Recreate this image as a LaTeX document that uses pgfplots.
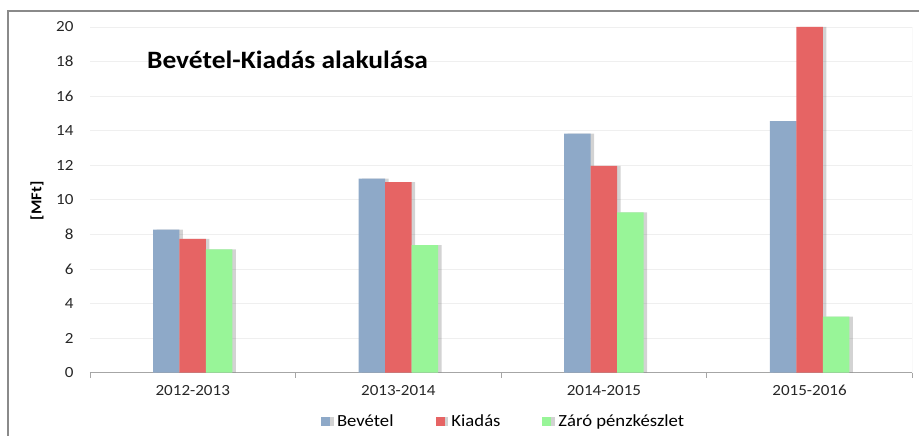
\documentclass[border=0pt]{standalone}
\usepackage{fontspec}
\setmainfont[FakeStretch=1.1]{Carlito}
\usepackage{pgfplots}
\pgfplotsset{compat=1.18}
\usetikzlibrary{shadows}
\definecolor{cblue}{HTML}{8EA9C8}
\definecolor{cred}{HTML}{E66464}
\definecolor{cgreen}{HTML}{98F598}
\definecolor{framegray}{HTML}{8A8A8A}
\definecolor{gridc}{HTML}{EFEFEF}
\definecolor{axc}{HTML}{A6A6A6}
\begin{document}
\begin{tikzpicture}[x=1pt,y=1pt]
\path (0,0) rectangle (920,436);
\draw[framegray, line width=1.3pt] (8,0) -- (8,425) -- (920,425);
\begin{axis}[
  at={(90pt,63pt)}, anchor=south west,
  scale only axis, width=823pt, height=346pt,
  xmin=-0.5, xmax=3.5, ymin=0, ymax=20,
  ybar=0pt, bar width=26.5pt,
  axis x line*=bottom, axis y line*=left,
  y axis line style={draw=none},
  x axis line style={draw=axc, line width=0.8pt},
  xtick={-0.5,0.5,1.5,2.5,3.5},
  x tick label as interval,
  xticklabels={2012-2013,2013-2014,2014-2015,2015-2016},
  xtick style={draw=axc, line width=0.8pt},
  tick align=outside, major tick length=5pt,
  ytick={0,2,...,20},
  ytick style={draw=none},
  ymajorgrids, grid style={draw=gridc, line width=0.8pt},
  tick label style={font=\fontsize{15.5}{18}\selectfont, text=black!85},
  /pgf/number format/assume math mode=true,
  yticklabel style={xshift=-8pt},
  xticklabel style={yshift=-4pt},
  legend columns=3,
  legend style={at={(axis description cs:0.503,-0.1416)}, anchor=center, draw=none, font=\fontsize{17}{20}\selectfont,
    /tikz/every even column/.append style={column sep=40pt},
    /tikz/every odd column/.append style={column sep=5pt}},
  legend image code/.code={\fill[#1] (0pt,-4.5pt) rectangle (9pt,4.5pt);},
]
\addplot[fill=cblue, draw=none, drop shadow={shadow xshift=3.5pt, shadow yshift=0pt, opacity=0.35}] coordinates {(0,8.28) (1,11.23) (2,13.83) (3,14.55)};
\addplot[fill=cred, draw=none, drop shadow={shadow xshift=3.5pt, shadow yshift=0pt, opacity=0.35}] coordinates {(0,7.74) (1,11.02) (2,11.97) (3,20.0)};
\addplot[fill=cgreen, draw=none, drop shadow={shadow xshift=3.5pt, shadow yshift=0pt, opacity=0.35}] coordinates {(0,7.13) (1,7.38) (2,9.28) (3,3.24)};
\legend{Bevétel,Kiadás,Záró pénzkészlet}
\draw[gridc, line width=0.8pt] (rel axis cs:1,0) -- (rel axis cs:1,1);
\end{axis}
\node[anchor=west, font=\bfseries\fontsize{25}{30}\selectfont, inner sep=0pt] at (147,376) {Bevétel-Kiadás alakulása};
\node[rotate=90, font=\bfseries\fontsize{15}{18}\selectfont, inner sep=0pt] at (37,235) {[MFt]};
\end{tikzpicture}
\end{document}
